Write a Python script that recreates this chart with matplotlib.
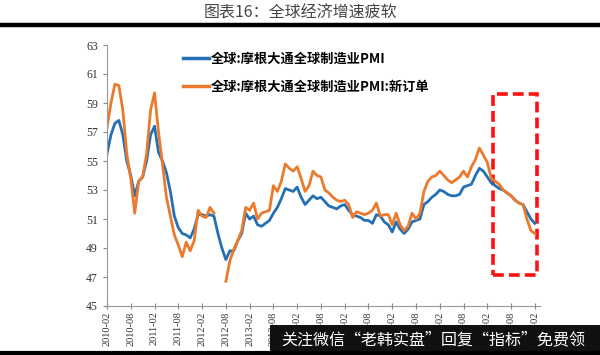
import numpy as np
import matplotlib
matplotlib.use("Agg")
import matplotlib.pyplot as plt
from matplotlib.patches import Rectangle
from matplotlib.lines import Line2D

plt.rcParams['font.family'] = ['Noto Sans CJK SC', 'DejaVu Sans']

# monthly, 2010-02 .. 2019-02
pmi = [55.5, 56.8, 57.6, 57.8, 56.8, 55.0, 54.0, 52.6, 53.6, 53.9, 55.0, 56.8,
       57.4, 55.6, 55.0, 54.2, 52.9, 51.2, 50.4, 50.0, 49.9, 49.7, 50.3, 51.3,
       51.3, 51.2, 51.3, 51.2, 50.0, 49.0, 48.2, 48.8, 48.8, 49.5, 50.0, 51.4,
       51.0, 51.2, 50.6, 50.5, 50.7, 50.9, 51.4, 51.8, 52.4, 53.1, 53.0, 52.9,
       53.2, 52.5, 52.0, 52.3, 52.6, 52.4, 52.5, 52.2, 51.9, 51.8, 51.7, 51.9,
       52.0, 51.6, 51.3, 51.2, 51.1, 50.9, 50.9, 50.7, 51.3, 51.2, 50.8, 50.6,
       50.1, 50.8, 50.3, 50.0, 50.3, 50.8, 50.9, 51.0, 52.0, 52.2, 52.5, 52.7,
       53.0, 52.9, 52.7, 52.6, 52.6, 52.7, 53.2, 53.3, 53.4, 54.0, 54.5, 54.3,
       53.9, 53.5, 53.3, 53.1, 53.0, 52.8, 52.6, 52.3, 52.1, 52.0, 51.5, 51.0,
       50.7]
new_orders = [57.3, 59.0, 60.3, 60.2, 58.5, 55.5, 53.8, 51.4, 53.6, 53.9, 55.5, 58.5,
              59.7, 57.0, 54.8, 52.5, 51.2, 49.9, 49.2, 48.4, 49.4, 48.8, 49.5, 51.6,
              51.2, 51.1, 51.8, 51.4, np.nan, np.nan, 46.7, 48.1, 48.9, 49.5, 50.2, 51.8,
              51.6, 52.1, 51.0, 51.4, 51.5, 51.6, 53.3, 52.9, 53.6, 54.8, 54.5, 54.3,
              54.6, 53.8, 52.9, 53.3, 54.3, 54.0, 53.9, 53.0, 52.8, 52.5, 52.3, 52.2,
              52.3, 52.0, 51.1, 51.5, 51.4, 51.3, 51.4, 51.6, 52.1, 51.2, 51.3, 51.3,
              50.6, 51.4, 50.6, 50.2, 50.5, 51.4, 51.0, 51.4, 52.9, 53.6, 53.9, 54.0,
              54.3, 54.0, 53.7, 53.5, 53.7, 53.9, 54.3, 53.9, 54.6, 55.1, 55.9, 55.4,
              54.9, 53.8, 53.6, 53.4, 53.0, 52.8, 52.6, 52.3, 52.1, 52.0, 51.0, 50.2,
              50.0]
tick_labels = ['2010-02', '2010-08', '2011-02', '2011-08', '2012-02', '2012-08',
               '2013-02', '2013-08', '2014-02', '2014-08', '2015-02', '2015-08',
               '2016-02', '2016-08', '2017-02', '2017-08', '2018-02', '2018-08',
               '2019-02']
label_pmi = '全球:摩根大通全球制造业PMI'
label_new = '全球:摩根大通全球制造业PMI:新订单'

blue = '#2470B5'
orange = '#EC7A2C'

fig = plt.figure(figsize=(6, 3.55), dpi=100)
ax = fig.add_axes([107 / 600, 1 - 306 / 355, 433 / 600, 261 / 355])

x = np.arange(len(pmi))
ax.plot(x, pmi, color=blue, lw=2.0)
ax.plot(x, new_orders, color=orange, lw=2.0)

ax.add_patch(Rectangle((97.5, 47.15), 11.1, 12.5, fill=False, edgecolor='#FF1010',
                       lw=2.6, linestyle=(0, (3, 1.4)), clip_on=False))

ax.set_xlim(0, 109.3)
ax.set_ylim(45, 63)
ax.set_yticks(range(45, 64, 2))
ax.set_xticks(range(0, 109, 6))
ax.set_xticklabels(tick_labels, rotation=90, family='Liberation Serif', fontsize=7.5,
                   color='#333333')
for lab in ax.get_yticklabels():
    lab.set_family('Liberation Serif')
    lab.set_fontsize(8.5)
    lab.set_color('#333333')
ax.tick_params(axis='both', colors='#888888', length=3, width=0.8, labelcolor='#333333')
ax.tick_params(axis='x', direction='inout', length=4, pad=2)
for s in ['top', 'right']:
    ax.spines[s].set_visible(False)
for s in ['left', 'bottom']:
    ax.spines[s].set_color('#999999')
    ax.spines[s].set_linewidth(0.8)

handles = [Line2D([], [], color=blue, lw=2.5), Line2D([], [], color=orange, lw=2.5)]
ax.legend(handles, [label_pmi, label_new], loc='upper left', bbox_to_anchor=(0.175, 0.975),
          frameon=False, handlelength=2.0, handletextpad=0.15, labelspacing=1.05,
          borderpad=0, borderaxespad=0, prop={'weight': 'bold', 'size': 9.5})

fig.text(0.5, 1 - 13 / 355, '图表16：全球经济增速疲软', ha='center', va='center',
         fontsize=11.5, color='#444444')
fig.add_artist(Line2D([0, 1], [1 - 25 / 355, 1 - 25 / 355], color='black', lw=3.2))
fig.add_artist(Line2D([0, 1], [1 - 353 / 355, 1 - 353 / 355], color='black', lw=3.0))

fig.patches.append(Rectangle((270 / 600, 0), 330 / 600, 30 / 355, transform=fig.transFigure,
                             facecolor='#111111', edgecolor='none', figure=fig))
fig.text(433 / 600, 1 - 340 / 355, '关注微信“老韩实盘”回复“指标”免费领', ha='center',
         va='center', fontsize=11.5, color='white')

fig.savefig('out.png', dpi=100)
